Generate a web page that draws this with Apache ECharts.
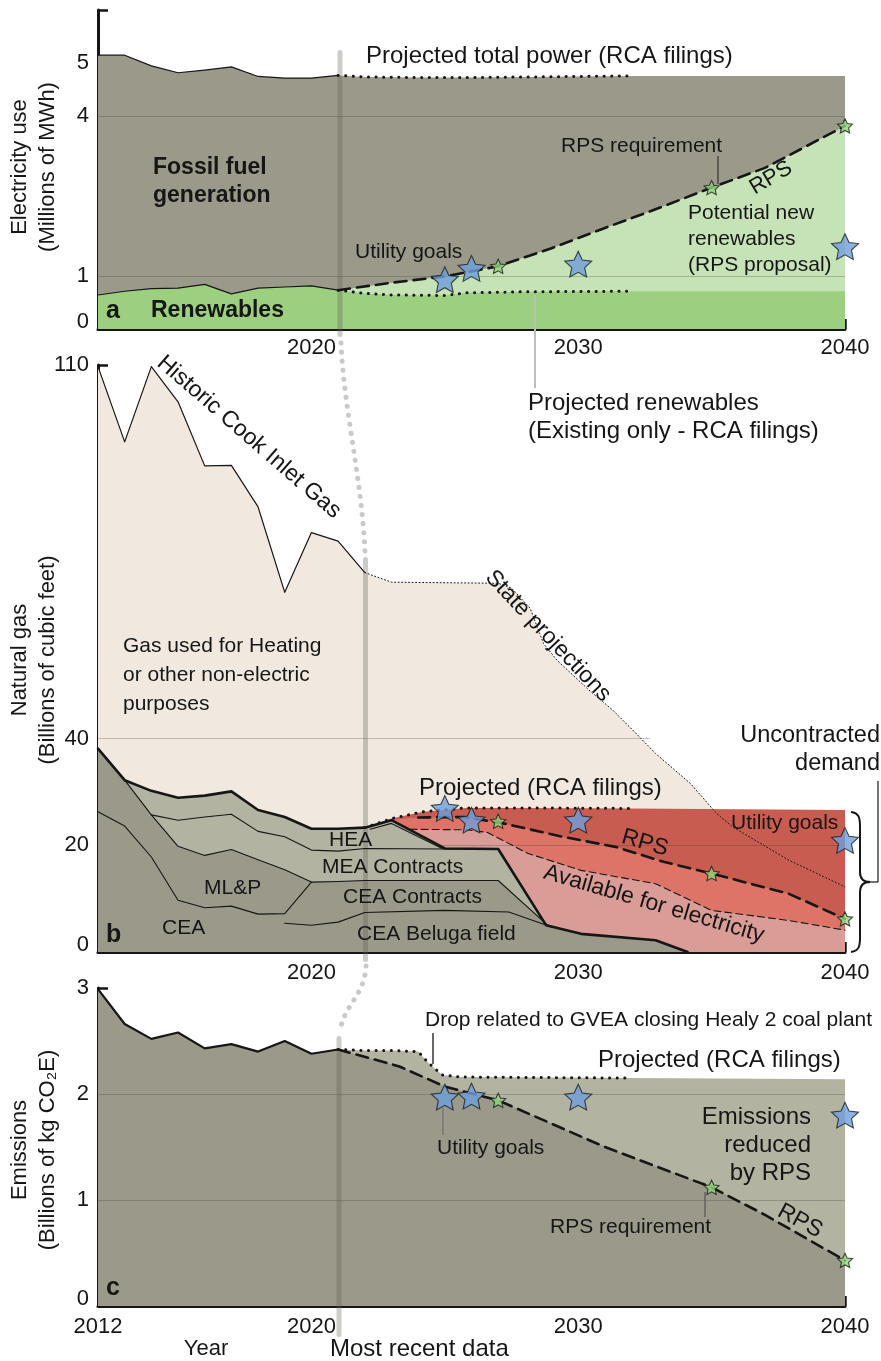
<!DOCTYPE html>
<html>
<head>
<meta charset="utf-8">
<script src="https://cdn.jsdelivr.net/npm/echarts@6/dist/echarts.min.js"></script>
<style>
html, body { margin: 0; padding: 0; background: #fff; }
#chart { width: 881px; height: 1361px; }
</style>
</head>
<body>
<div id="chart"></div>
<script>
// ---- panel a : electricity use (millions of MWh) ----
var elecYears = [2012, 2013, 2014, 2015, 2016, 2017, 2018, 2019, 2020, 2021];
var elecTotal = [5.15, 5.15, 4.95, 4.82, 4.87, 4.93, 4.75, 4.72, 4.72, 4.77];
var elecRenew = [0.64, 0.71, 0.76, 0.77, 0.84, 0.66, 0.77, 0.79, 0.81, 0.73];
var projTotalYears = [2021, 2022, 2024, 2026, 2028, 2030, 2032, 2040];
var projTotal = [4.77, 4.74, 4.73, 4.73, 4.74, 4.75, 4.76, 4.76];
var projRenewYears = [2021, 2022, 2023, 2025, 2025.8, 2028, 2032, 2040];
var projRenew = [0.73, 0.67, 0.64, 0.63, 0.68, 0.70, 0.71, 0.71];
var rpsElecYears = [2021, 2023, 2025, 2027, 2029, 2031, 2033, 2035, 2037, 2040];
var rpsElec = [0.73, 0.87, 0.99, 1.18, 1.52, 1.9, 2.27, 2.66, 3.03, 3.82];
var goalYears = [2025, 2026, 2030, 2040];
var goalElec = [0.93, 1.14, 1.22, 1.55];
var rpsStarYears = [2027, 2035, 2040];
var rpsStarElec = [1.18, 2.66, 3.82];

// ---- panel b : natural gas (billions of cubic feet) ----
var gasYears = [2012, 2013, 2014, 2015, 2016, 2017, 2018, 2019, 2020, 2021, 2022];
var gasTotal = [109.7, 95.6, 109.7, 103.1, 91.1, 91.2, 83.4, 67.4, 78.6, 77.0, 71.1];
var stateYears = [2022, 2023, 2027, 2027.5, 2028.2, 2028.7, 2029.2, 2030.4, 2031.3, 2032.1, 2032.9, 2034.2, 2035.2, 2035.8, 2037.9, 2040];
var stateGas = [71.1, 69.3, 69.1, 68.2, 64.4, 57.8, 54.7, 49.1, 45.3, 41.3, 37.2, 31.6, 25.9, 23.4, 17.2, 12.2];
var elecGasYears = [2012, 2013, 2014, 2015, 2016, 2017, 2018, 2019, 2020, 2021, 2022, 2023, 2025, 2027, 2028.8, 2030.1, 2032.9, 2034.1];
var elecGas = [38.1, 32.2, 30.2, 28.9, 29.3, 30.1, 26.6, 25.3, 23.1, 23.1, 23.3, 24.7, 19.4, 19.3, 5.0, 3.4, 2.2, 0];
var heaInnerYears = [2022.2, 2023, 2024.9];
var heaInner = [23.0, 24.1, 19.4];
var heaBaseYears = [2014, 2015, 2016, 2017, 2018, 2019, 2020, 2021, 2022, 2025, 2027];
var heaBase = [25.7, 24.7, 25.3, 25.8, 22.6, 21.6, 19.1, 18.9, 19.4, 19.3, 19.3];
var meaBaseYears = [2012, 2013, 2014, 2015, 2016, 2017, 2018, 2019, 2020, 2021, 2022, 2027, 2028.9];
var meaBase = [38.1, 32.2, 25.7, 19.8, 18.1, 19.2, 17.3, 15.4, 13.1, 13.2, 13.4, 13.4, 4.8];
var ceaTopYears = [2012, 2013, 2014, 2015, 2016, 2017, 2018, 2019, 2020];
var ceaTop = [26.3, 23.6, 17.8, 9.7, 8.3, 8.6, 7.1, 7.2, 13.1];
var belugaYears = [2019, 2020, 2021, 2022, 2025, 2027.4, 2029];
var beluga = [5.4, 5.0, 5.6, 7.4, 7.8, 7.5, 4.7];
var projGasYears = [2022, 2023, 2024.2, 2025.8, 2028, 2032, 2040];
var projGas = [23.3, 25.0, 26.3, 27.0, 27.0, 26.9, 26.6];
var rpsGasYears = [2022, 2023, 2024, 2025.7, 2027.2, 2029.4, 2031.4, 2033.2, 2035, 2037.9, 2040];
var rpsGas = [23.3, 24.8, 25.2, 25.3, 24.1, 21.6, 19.7, 16.9, 14.7, 10.9, 6.2];
var availYears = [2022, 2023.7, 2025.8, 2026.6, 2028.1, 2030.1, 2032.9, 2035, 2037.9, 2040];
var avail = [23.3, 23.0, 22.9, 22.4, 18.5, 15.3, 12.8, 7.8, 5.9, 4.1];
var goalGas = [26.9, 24.7, 24.7, 20.9];
var rpsStarGas = [24.5, 14.7, 6.2];

// ---- panel c : emissions (billions of kg CO2E) ----
var emisYears = [2012, 2013, 2014, 2015, 2016, 2017, 2018, 2019, 2020, 2021];
var emis = [2.99, 2.66, 2.52, 2.58, 2.43, 2.47, 2.40, 2.50, 2.38, 2.42];
var projEmisYears = [2021, 2022, 2023, 2024, 2024.4, 2024.9, 2025.6, 2032, 2040];
var projEmis = [2.42, 2.41, 2.41, 2.40, 2.29, 2.18, 2.16, 2.15, 2.14];
var rpsEmisYears = [2021, 2023.3, 2025, 2027, 2029, 2031, 2033, 2035, 2037, 2040];
var rpsEmis = [2.42, 2.26, 2.07, 1.94, 1.72, 1.5, 1.31, 1.12, 0.86, 0.43];
var goalEmis = [1.97, 1.98, 1.97, 1.80];
var rpsStarEmis = [1.94, 1.12, 0.43];

// ticks
var yearTicks = [2020, 2030, 2040];
var aTicks = [0, 1, 2, 3, 4, 5, 6], aLabels = [0, 1, 4, 5];
var bTicks = [0, 10, 20, 30, 40, 50, 60, 70, 80, 90, 100, 110], bLabels = [0, 20, 40, 110];
var cTicks = [0, 0.5, 1, 1.5, 2, 2.5, 3], cLabels = [0, 1, 2, 3];

var FONT = '"Liberation Sans", Arial, Helvetica, sans-serif';
var INK = '#161616';
var GRAY_D = '#9a998a', GRAY_L = '#b3b3a1';
var STAR = 'path://M50 0 L64.11 30.58 L97.55 34.55 L72.83 57.42 L79.39 90.45 L50 74 L20.61 90.45 L27.17 57.42 L2.45 34.55 L35.89 30.58 Z';
var DOTS = [0.1, 7.5];

function pts(xs, ys) { return xs.map(function (x, i) { return [x, ys[i]]; }); }
function between(xs, ys, lo, hi) {
  return pts(xs, ys).filter(function (p) { return p[0] >= lo && p[0] <= hi; });
}

function area(g, data, color, z) {
  return { type: 'line', xAxisIndex: g, yAxisIndex: g, data: data, symbol: 'none', silent: true,
    lineStyle: { width: 0 }, areaStyle: { color: color, opacity: 1 }, z: z };
}
function stroke(g, data, width, dash, z) {
  return { type: 'line', xAxisIndex: g, yAxisIndex: g, data: data, symbol: 'none', silent: true,
    lineStyle: { color: INK, width: width, type: dash || 'solid', cap: 'round', join: 'round' }, z: z || 8 };
}
function stars(g, xs, ys, color, size) {
  return { type: 'scatter', xAxisIndex: g, yAxisIndex: g, data: pts(xs, ys), symbol: STAR,
    symbolSize: size, symbolKeepAspect: true, silent: true,
    itemStyle: { color: color, borderColor: '#1b1b1b', borderWidth: 1.1 }, z: 12 };
}
function rules(g, lines) {
  return { type: 'line', xAxisIndex: g, yAxisIndex: g, data: [], symbol: 'none', silent: true, z: 9,
    markLine: { silent: true, symbol: ['none', 'none'], label: { show: false }, animation: false,
      emphasis: { disabled: true },
      lineStyle: { color: 'rgba(60,60,50,0.28)', width: 1, type: 'solid' }, data: lines } };
}

function xAx(g, labels, margin) {
  return { type: 'value', gridIndex: g, min: 2012, max: 2040,
    axisLine: { show: true, onZero: false, lineStyle: { color: INK, width: 3 } },
    axisTick: { show: true, inside: true, length: 10, customValues: yearTicks, lineStyle: { color: INK, width: 2.5 } },
    axisLabel: { show: true, customValues: labels, margin: margin, color: INK, fontSize: 22, fontFamily: FONT,
      formatter: function (v) { return String(v); } },
    splitLine: { show: false } };
}
function yAx(g, max, ticks, labels) {
  return { type: 'value', gridIndex: g, min: 0, max: max,
    axisLine: { show: true, lineStyle: { color: INK, width: 3 } },
    axisTick: { show: true, inside: true, length: 10, customValues: ticks, lineStyle: { color: INK, width: 2.5 } },
    axisLabel: { show: true, customValues: labels, margin: 9, color: INK, fontSize: 22, fontFamily: FONT,
      formatter: function (v) { return v === 0 ? '{z|0}' : String(v); },
      rich: { z: { fontSize: 22, fontFamily: FONT, color: INK, padding: [0, 0, 14, 0] } } },
    splitLine: { show: false } };
}

function T(s, x, y, o) {
  o = o || {};
  return { type: 'text', x: x, y: y, z: 30, silent: true,
    rotation: (o.rot || 0) * Math.PI / 180,
    style: { text: s, fill: INK, fontFamily: FONT, fontSize: o.size || 21, fontWeight: o.bold ? 'bold' : 'normal',
      align: o.align || 'left', verticalAlign: 'middle', lineHeight: o.lh || 26 } };
}
function L(x1, y1, x2, y2, color, w) {
  return { type: 'line', z: 25, silent: true, shape: { x1: x1, y1: y1, x2: x2, y2: y2 },
    style: { stroke: color || INK, lineWidth: w || 1.2 } };
}
function bar(x, y1, y2) {
  return { type: 'rect', z: 7, silent: true, shape: { x: x - 2.5, y: y1, width: 5, height: y2 - y1, r: 2.5 },
    style: { fill: 'rgba(95,95,85,0.32)' } };
}
function curve(x1, y1, c1x, c1y, c2x, c2y, x2, y2, style) {
  return { type: 'bezierCurve', z: 25, silent: true,
    shape: { x1: x1, y1: y1, cpx1: c1x, cpy1: c1y, cpx2: c2x, cpy2: c2y, x2: x2, y2: y2 },
    style: Object.assign({ fill: null }, style) };
}
var dotted = { stroke: '#c9c9c9', lineWidth: 5, lineDash: [0.1, 9], lineCap: 'round' };
var brace = { stroke: INK, lineWidth: 2 };

var series = [
  // a
  area(0, pts(elecYears, elecTotal).concat(pts(projTotalYears, projTotal).slice(1)), GRAY_D, 1),
  area(0, pts(rpsElecYears, rpsElec), '#c6e2b7', 2),
  area(0, pts(elecYears, elecRenew).concat(pts(projRenewYears, projRenew).slice(1)), '#9dcf81', 3),
  rules(0, [{ yAxis: 1 }, { yAxis: 4 }]),
  stroke(0, pts(elecYears, elecTotal), 1.2),
  stroke(0, pts(elecYears, elecRenew), 1.2),
  stroke(0, between(projTotalYears, projTotal, 2021, 2032), 3, DOTS),
  stroke(0, between(projRenewYears, projRenew, 2021, 2032), 3, DOTS),
  stroke(0, pts(rpsElecYears, rpsElec), 2.6, [12, 7]),
  stars(0, goalYears, goalElec, '#6e9fdb', 27),
  stars(0, rpsStarYears, rpsStarElec, '#8ed47a', 15),
  // b
  area(1, pts(gasYears, gasTotal).concat(pts(stateYears, stateGas).slice(1)), '#f1e9df', 1),
  area(1, pts(projGasYears, projGas), '#c95c50', 2),
  area(1, pts(rpsGasYears, rpsGas), '#de7468', 3),
  area(1, pts(availYears, avail), '#d99c97', 4),
  area(1, pts(elecGasYears, elecGas), GRAY_L, 5),
  area(1, pts(meaBaseYears, meaBase).concat(between(elecGasYears, elecGas, 2029, 2040)), GRAY_D, 6),
  rules(1, [{ yAxis: 20 }, [{ coord: [2012, 40] }, { coord: [2032.7, 40] }]]),
  stroke(1, pts(gasYears, gasTotal), 1.2),
  stroke(1, pts(stateYears, stateGas), 1, [1, 2.5]),
  stroke(1, pts(ceaTopYears, ceaTop), 1.1),
  stroke(1, pts(meaBaseYears, meaBase), 1.1),
  stroke(1, pts(heaBaseYears, heaBase), 1.1),
  stroke(1, pts(belugaYears, beluga), 1.1),
  stroke(1, pts(heaInnerYears, heaInner), 1.1),
  stroke(1, pts(elecGasYears, elecGas), 2.6),
  stroke(1, between(projGasYears, projGas, 2022, 2032), 3, DOTS),
  stroke(1, between(rpsGasYears, rpsGas, 2024, 2040), 2.6, [12, 7]),
  stroke(1, between(availYears, avail, 2023.7, 2040), 1.1, [7, 4]),
  stars(1, goalYears, goalGas, '#6e9fdb', 27),
  stars(1, rpsStarYears, rpsStarGas, '#8ed47a', 15),
  // c
  area(2, pts(emisYears, emis).concat(pts(projEmisYears, projEmis).slice(1)), GRAY_L, 1),
  area(2, pts(emisYears, emis).concat(pts(rpsEmisYears, rpsEmis).slice(1)), GRAY_D, 2),
  rules(2, [{ yAxis: 1 }, { yAxis: 2 }]),
  stroke(2, pts(emisYears, emis), 2.2),
  stroke(2, between(projEmisYears, projEmis, 2021, 2032), 3, DOTS),
  stroke(2, pts(rpsEmisYears, rpsEmis), 2.6, [12, 7]),
  stars(2, goalYears, goalEmis, '#6e9fdb', 27),
  stars(2, rpsStarYears, rpsStarEmis, '#8ed47a', 15)
];

var graphic = [
  // "most recent data" bars and the dotted link between them
  bar(340, 50, 337), bar(365.5, 557, 962), bar(339, 1036, 1337),
  curve(341, 343, 344, 410, 362, 480, 365, 553, dotted),
  curve(366, 966, 365, 995, 344, 1005, 340, 1031, dotted),
  // y names
  T('Electricity use\n(Millions of MWh)', 34, 167, { rot: 90, align: 'center', size: 22, lh: 28 }),
  T('Natural gas\n(Billions of cubic feet)', 34, 660, { rot: 90, align: 'center', size: 22, lh: 28 }),
  T('Emissions\n(Billions of kg CO\u2082E)', 34, 1150, { rot: 90, align: 'center', size: 22, lh: 28 }),
  // a
  T('Projected total power (RCA filings)', 366, 56, { size: 24 }),
  T('Fossil fuel\ngeneration', 153, 182, { bold: true, size: 23, lh: 28 }),
  T('a', 106, 311, { bold: true, size: 25 }),
  T('Renewables', 151, 311, { bold: true, size: 23 }),
  T('Utility goals', 355, 252),
  T('RPS requirement', 561, 146),
  L(718, 156, 718, 184, '#333', 1.2),
  T('RPS', 771, 178, { rot: 31, align: 'center', size: 22 }),
  T('Potential new\nrenewables\n(RPS proposal)', 688, 239, { lh: 26 }),
  T('Projected renewables\n(Existing only - RCA filings)', 528, 417, { size: 24, lh: 28 }),
  L(535, 295, 535, 388, '#bdbdbd', 2),
  // b
  T('Historic Cook Inlet Gas', 249, 437, { rot: -41, align: 'center', size: 23 }),
  T('State projections', 548, 636, { rot: -46.5, align: 'center', size: 23 }),
  T('Gas used for Heating\nor other non-electric\npurposes', 123, 675, { lh: 29 }),
  T('Projected (RCA filings)', 419, 788, { size: 24 }),
  T('HEA', 329, 840),
  T('MEA Contracts', 322, 867),
  T('CEA Contracts', 343, 897),
  T('CEA Beluga field', 357, 934),
  T('ML&P', 204, 888),
  T('CEA', 162, 928),
  T('b', 106, 935, { bold: true, size: 25 }),
  T('RPS', 645, 843, { rot: -16, align: 'center', size: 23 }),
  T('Available for electricity', 654, 904, { rot: -16.3, align: 'center', size: 23 }),
  T('Utility goals', 731, 823),
  T('Uncontracted\ndemand', 880, 750, { align: 'right', lh: 28, size: 23.5 }),
  curve(851, 812, 859, 813, 860, 818, 860, 826, brace),
  L(860, 826, 860, 872, INK, 2),
  curve(860, 872, 860, 879, 864, 882, 870, 882, brace),
  curve(870, 882, 864, 882, 860, 885, 860, 892, brace),
  L(860, 892, 860, 938, INK, 2),
  curve(860, 938, 860, 946, 859, 951, 851, 952, brace),
  L(870, 882, 878, 882, INK, 1.2),
  L(878, 882, 878, 781, INK, 1.2),
  // c
  T('Drop related to GVEA closing Healy 2 coal plant', 425, 1020),
  L(433, 1033, 433, 1064, INK, 1.3),
  T('Projected (RCA filings)', 598, 1060, { size: 24 }),
  T('Utility goals', 437, 1148),
  L(443, 1108, 443, 1135, '#777', 1.5),
  T('Emissions\nreduced\nby RPS', 811, 1145, { align: 'right', size: 24, lh: 28 }),
  T('RPS requirement', 550, 1227),
  L(705, 1192, 705, 1217, '#555', 1.2),
  T('RPS', 800, 1221, { rot: -28.5, align: 'center', size: 23 }),
  T('c', 106, 1288, { bold: true, size: 25 }),
  T('Year', 206, 1349, { align: 'center', size: 22 }),
  T('Most recent data', 330, 1349, { size: 24 })
];

var chart = echarts.init(document.getElementById('chart'), null, { renderer: 'canvas' });
chart.setOption({
  animation: false,
  backgroundColor: '#fff',
  grid: [
    { left: 98, top: 10, width: 747, height: 319, outerBoundsMode: 'none' },
    { left: 98, top: 365, width: 747, height: 587, outerBoundsMode: 'none' },
    { left: 98, top: 988, width: 747, height: 318, outerBoundsMode: 'none' }
  ],
  xAxis: [xAx(0, [2020, 2030, 2040], 8), xAx(1, [2020, 2030, 2040], 10), xAx(2, [2012, 2020, 2030, 2040], 10)],
  yAxis: [yAx(0, 6, aTicks, aLabels), yAx(1, 110, bTicks, bLabels), yAx(2, 3, cTicks, cLabels)],
  series: series,
  graphic: graphic
});
</script>
</body>
</html>
